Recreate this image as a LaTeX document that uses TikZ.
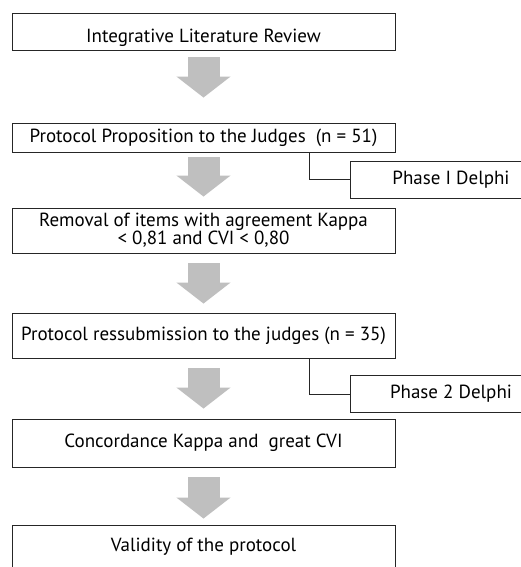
\documentclass[tikz,border=0pt]{standalone}
\usepackage{fontspec}
\setmainfont{PT Sans}
\usetikzlibrary{arrows.meta, positioning, calc}
\definecolor{blockgray}{HTML}{BFBFBF}
\definecolor{edge}{HTML}{262626}

\begin{document}
\begin{tikzpicture}[
  x=1pt, y=-1pt,
  font=\fontsize{19}{18}\selectfont,
  box/.style={draw=edge, line width=0.9pt, fill=white, minimum width=383pt,
              inner sep=0pt, align=center},
  side/.style={box, minimum width=202pt, minimum height=37pt},
  blk/.style={line width=32pt, blockgray,
              -{Triangle[width=53pt, length=21pt]}},
  ln/.style={draw=edge, line width=0.9pt}
]
\useasboundingbox (0,0) rectangle (521,567);
\clip (0,0) rectangle (521,567);
\fill[white] (0,0) rectangle (521,567);

% --- main column ---
\node[box, minimum height=37pt, text height=30pt, text depth=7pt] (rev) at (203.5,31.5)
  {Integrative Literature Review};
\node[box, minimum height=29pt] (prop) at (203.5,137.5)
  {Protocol Proposition to the Judges\ \ (n = 51)};
\node[box, minimum height=45pt] (rem)  at (203.5,230.5)
  {Removal of items with agreement Kappa\\ < 0,81 and CVI < 0,80};
\node[box, minimum height=45pt] (resub) at (203.5,335.5)
  {Protocol ressubmission to the judges (n = 35)};
\node[box, minimum height=48pt] (conc) at (203.5,443)
  {Concordance Kappa and\ \ great CVI};
\node[box, minimum height=43pt] (val)  at (203.5,546.5)
  {Validity of the protocol};

% --- Delphi phases ---
\node[side] (ph1) at (451,179.5) {Phase I Delphi};
\node[side] (ph2) at (451,394)   {Phase 2 Delphi};

\draw[ln] ([xshift=105.5pt]prop.south)  |- (ph1.west);
\draw[ln] ([xshift=105.5pt]resub.south) |- (ph2.west);

% --- block arrows ---
\draw[blk, shorten <=7pt,  shorten >=25pt] (rev)   -- (prop);
\draw[blk, shorten <=5pt,  shorten >=11pt] (prop)  -- (rem);
\draw[blk, shorten <=10pt, shorten >=9pt]  (rem)   -- (resub);
\draw[blk, shorten <=10pt, shorten >=10pt] (resub) -- (conc);
\draw[blk, shorten <=10pt, shorten >=6pt]  (conc)  -- (val);
\end{tikzpicture}
\end{document}
